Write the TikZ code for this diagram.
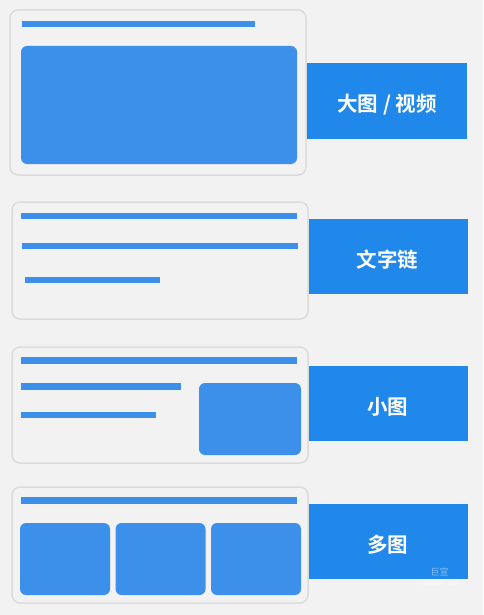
\documentclass[tikz,border=0pt]{standalone}
\usepackage{fontspec}
\newfontfamily\cjk{Noto Sans CJK SC}[BoldFont={Noto Sans CJK SC Bold}]
\definecolor{pagebg}{HTML}{F2F2F2}
\definecolor{cardedge}{HTML}{DCDCDC}
\definecolor{mockblue}{HTML}{3D90EA}
\definecolor{tagblue}{HTML}{2088EA}

\begin{document}
\begin{tikzpicture}[
    x = 1pt, y = -1pt,
    card/.style = {
      draw = cardedge, line width = 1.5pt, fill = pagebg, rounded corners = 8pt},
    bar/.style = {fill = mockblue},
    photo/.style = {fill = mockblue, rounded corners = 6pt},
    tag/.style = {
      fill = tagblue, text = white, inner sep = 0pt,
      minimum width = 160pt, minimum height = 75pt,
      text height = 22pt, text depth = 0pt,
      font = \cjk\bfseries\fontsize{20.5}{24}\selectfont}
    ]
    \fill[pagebg] (0,0) rectangle (483,615);
    \useasboundingbox (0,0) rectangle (483,615);
    % tags
    \node[tag] (big) at (387,101) {大图 / 视频}; % 0
    \node[tag] (text) at (387.5,256.5) {文字链}; % 1
    \node[tag] (small) at (387.5,403.5) {小图}; % 2
    \node[tag] (multi) at (387.5,541.5) {多图}; % 3
    % big picture
    \draw[card] (10,10) rectangle (306,175);
    \fill[bar] (22,21) rectangle (255,27);
    \fill[photo] (21,46) rectangle (297,164);
    % text links
    \draw[card] (12,202) rectangle (308,319);
    \fill[bar] (21,213) rectangle (297,219);
    \fill[bar] (22,243) rectangle (298,249);
    \fill[bar] (25,277) rectangle (160,283);
    % small picture
    \draw[card] (12,347) rectangle (308,463);
    \fill[bar] (21,357) rectangle (297,364);
    \fill[bar] (21,383) rectangle (181,390);
    \fill[bar] (21,412) rectangle (156,418);
    \fill[photo] (199,383) rectangle (301,455);
    % multiple pictures
    \draw[card] (12,487) rectangle (308,603);
    \fill[bar] (21,497) rectangle (297,504);
    \foreach \x in {20,115.5,211}
      \fill[photo] (\x,523) rectangle (\x+90,595);
    % watermark
    \node[text = white, opacity = .45, inner sep = 0pt,
      font = \cjk\fontsize{9}{10}\selectfont] (mark) at (439.5,572) {巨宣};
    \node[text = white, opacity = .6, inner sep = 0pt,
      font = \sffamily\fontsize{8}{9}\selectfont] (site) at (440,584) {juxuan.net};
  \end{tikzpicture}
\end{document}
